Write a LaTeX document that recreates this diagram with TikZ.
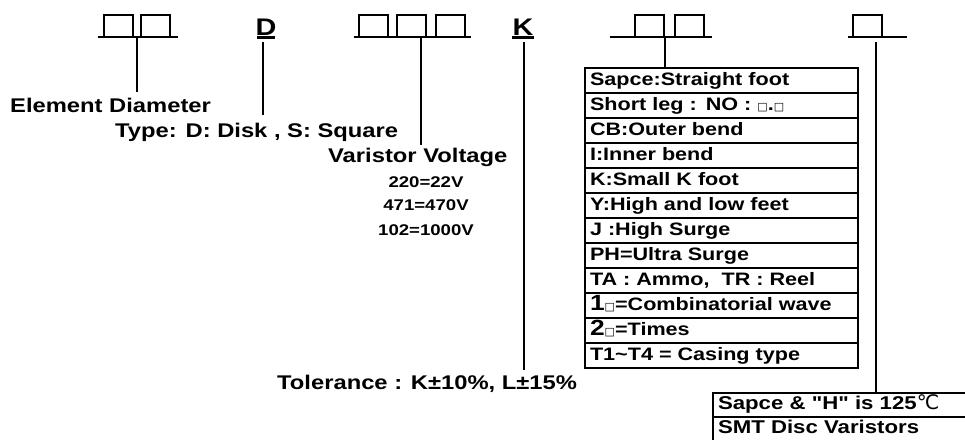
\documentclass[tikz,border=0pt]{standalone}
\usepackage{fontspec}
\newfontfamily\plainsans{Liberation Sans}[FakeStretch=1.2]
\newfontfamily\symfont{DejaVu Sans}
\usetikzlibrary{positioning}

\newcommand\smallsq{{\symfont\mdseries\fontsize{11}{11}\selectfont □}}
\newcommand\bigdigit[1]{{\fontsize{22}{22}\selectfont #1}}

\begin{document}
\begin{tikzpicture}[
    x=1pt, y=-1pt,
    slot/.style={rectangle, draw, line width=2pt, minimum width=29pt, minimum height=22pt, inner sep=0pt, outer sep=0pt},
    bar/.style={draw, line width=2.4pt},
    lead/.style={draw, line width=1.6pt},
    letter/.style={inner sep=0pt, anchor=base, font=\plainsans\fontsize{24}{26}\selectfont\bfseries},
    label/.style={inner sep=0pt, anchor=base west, font=\plainsans\fontsize{19.8}{22}\selectfont\bfseries},
    value/.style={inner sep=0pt, anchor=base, font=\plainsans\fontsize{15.5}{18}\selectfont\bfseries},
    cell/.style={rectangle, draw, line width=2pt, minimum width=273pt, minimum height=25pt, text width=263pt, text height=13pt, text depth=4pt, inner xsep=5pt, inner ysep=0pt, outer sep=0pt, align=left, font=\plainsans\fontsize{18}{20}\selectfont\bfseries},
    note/.style={cell, minimum width=270pt, text width=260pt, minimum height=24pt, font=\plainsans\fontsize{18.5}{20}\selectfont\bfseries}
]
\path[clip] (0,0) rectangle (965,439);
\useasboundingbox (0,0) rectangle (965,439);

% code positions
\node [slot] (dia1) at (118,26) {};
\node [slot, right=8pt of dia1] (dia2) {};
\draw [bar] ([xshift=-6pt]dia1.south west) -- ([xshift=8pt]dia2.south east);

\node [letter] (typD) at (266,35) {D};
\draw [bar] (257,37.5) -- (275,37.5);

\node [slot] (vol1) at (373,26) {};
\node [slot, right=9.5pt of vol1] (vol2) {};
\node [slot, right=9.5pt of vol2] (vol3) {};
\draw [bar] ([xshift=-5pt]vol1.south west) -- ([xshift=6pt]vol3.south east);

\node [letter] (tolK) at (523,35) {K};
\draw [bar] (512,37.5) -- (534,37.5);

\node [slot] (leg1) at (649,26) {};
\node [slot, right=11pt of leg1] (leg2) {};
\draw [bar] ([xshift=-25pt]leg1.south west) -- ([xshift=8pt]leg2.south east);

\node [slot] (pkg1) at (867.5,26) {};
\draw [bar] ([xshift=-5pt]pkg1.south west) -- ([xshift=25pt]pkg1.south east);

% descriptions
\node [label] (diaTxt) at (10,112) {Element Diameter};
\node [label] (typTxt) at (115,137) {Type: D: Disk , S: Square};
\node [label] (volTxt) at (328,162) {Varistor Voltage};
\node [value] (v220) at (426,187) {220=22V};
\node [value] (v471) at (426,210) {471=470V};
\node [value] (v102) at (426,235) {102=1000V};
\node [label] (tolTxt) at (277,389) {Tolerance : K±10\%, L±15\%};

\node [cell, anchor=north west] (r1) at (585,68) {Sapce:Straight foot};
\node [cell, below=0pt of r1] (r2) {Short leg : NO : \smallsq.\smallsq};
\node [cell, below=0pt of r2] (r3) {CB:Outer bend};
\node [cell, below=0pt of r3] (r4) {I:Inner bend};
\node [cell, below=0pt of r4] (r5) {K:Small K foot};
\node [cell, below=0pt of r5] (r6) {Y:High and low feet};
\node [cell, below=0pt of r6] (r7) {J :High Surge};
\node [cell, below=0pt of r7] (r8) {PH=Ultra Surge};
\node [cell, below=0pt of r8] (r9) {TA : Ammo,\ \ TR : Reel};
\node [cell, below=0pt of r9] (r10) {\bigdigit{1}\smallsq=Combinatorial wave};
\node [cell, below=0pt of r10] (r11) {\bigdigit{2}\smallsq=Times};
\node [cell, below=0pt of r11] (r12) {T1\textasciitilde T4 = Casing type};

\node [note, anchor=north west] (s1) at (713,393) {Sapce \& "H" is 125{\symfont\mdseries\fontsize{20}{20}\selectfont ℃}};
\node [note, below=0pt of s1] (s2) {SMT Disc Varistors};

% leader lines
\coordinate (diaTap) at (137,37);
\coordinate (typTap) at (263,42);
\coordinate (volTap) at (421,38);
\coordinate (tolTap) at (524,42);
\coordinate (legTap) at (665,38);
\coordinate (pkgTap) at (876,42);
\path [lead, shorten >=5.5pt] (diaTap) -- (diaTap |- diaTxt.north);
\path [lead, shorten >=7.5pt] (typTap) -- (typTap |- typTxt.north);
\path [lead, shorten >=2pt] (volTap) -- (volTap |- volTxt.north);
\path [lead, shorten >=4.5pt] (tolTap) -- (tolTap |- tolTxt.north);
\path [lead] (legTap) -- (legTap |- r1.north);
\path [lead] (pkgTap) -- (pkgTap |- s1.north);

\end{tikzpicture}
\end{document}
